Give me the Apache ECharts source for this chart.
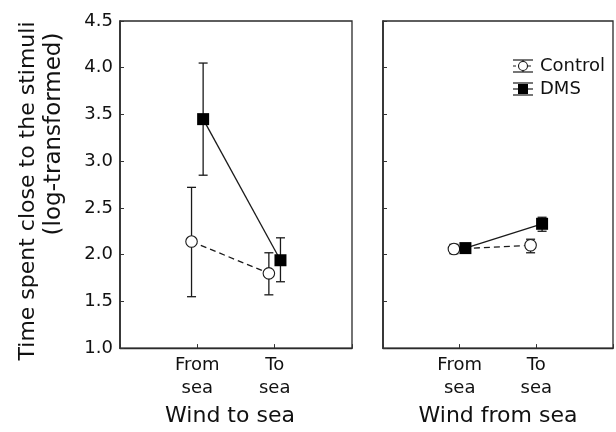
<!DOCTYPE html>
<html>
<head>
<meta charset="utf-8">
<script src="https://cdn.jsdelivr.net/npm/echarts@6/dist/echarts.min.js"></script>
<style>html,body{margin:0;padding:0;background:#fff;}#c{width:616px;height:432px;}</style>
</head>
<body>
<div id="c"></div>
<script>
// ---- data ----
const categories = ['From\nsea', 'To\nsea'];
const panels = ['Wind to sea', 'Wind from sea'];
const seriesNames = ['Control', 'DMS'];
const yTicks = [1.0, 1.5, 2.0, 2.5, 3.0, 3.5, 4.0, 4.5];

// Panel 1: Wind to sea
const controlMeanWindTo = [2.14, 1.80];
const controlLowWindTo  = [1.55, 1.57];
const controlHighWindTo = [2.72, 2.02];
const dmsMeanWindTo = [3.45, 1.94];
const dmsLowWindTo  = [2.85, 1.71];
const dmsHighWindTo = [4.05, 2.18];

// Panel 2: Wind from sea
const controlMeanWindFrom = [2.06, 2.10];
const controlLowWindFrom  = [2.01, 2.02];
const controlHighWindFrom = [2.11, 2.165];
const dmsMeanWindFrom = [2.07, 2.33];
const dmsLowWindFrom  = [2.04, 2.25];
const dmsHighWindFrom = [2.10, 2.40];

// ---- build ----
const FONT = 'DejaVu Sans';
const DODGE = 0.075;
const panelData = [
  {c: [controlMeanWindTo, controlLowWindTo, controlHighWindTo], d: [dmsMeanWindTo, dmsLowWindTo, dmsHighWindTo]},
  {c: [controlMeanWindFrom, controlLowWindFrom, controlHighWindFrom], d: [dmsMeanWindFrom, dmsLowWindFrom, dmsHighWindFrom]}
];

function errRender(params, api) {
  const x = api.value(0), lo = api.value(1), hi = api.value(2);
  const a = api.coord([x, lo]), b = api.coord([x, hi]);
  const hw = 4.5;
  const st = {stroke: '#1a1a1a', lineWidth: 1.3};
  return {type: 'group', children: [
    {type: 'line', shape: {x1: a[0], y1: a[1], x2: b[0], y2: b[1]}, style: st},
    {type: 'line', shape: {x1: a[0]-hw, y1: a[1], x2: a[0]+hw, y2: a[1]}, style: st},
    {type: 'line', shape: {x1: b[0]-hw, y1: b[1], x2: b[0]+hw, y2: b[1]}, style: st}
  ]};
}

const grids = [
  {left: 120, right: 264, top: 21, bottom: 74},
  {left: 383, right: 1, top: 21, bottom: 74}
].map(g => Object.assign(g, {show: true, borderColor: '#2a2a2a', borderWidth: 1.3, backgroundColor: 'transparent'}));

const xAxes = panels.map((name, i) => ({
  type: 'value', gridIndex: i, min: 0, max: 3, interval: 1,
  name: name, nameLocation: 'middle', nameGap: 49,
  nameTextStyle: {fontFamily: FONT, fontSize: 22, color: '#111', padding: i === 0 ? [0, 12, 0, 0] : [0, 0, 0, 0]},
  axisLine: {show: true, lineStyle: {color: '#2a2a2a', width: 1.4}},
  axisTick: {show: true, inside: true, length: 4, lineStyle: {color: '#333'}},
  splitLine: {show: false},
  axisLabel: {
    show: true, margin: 6, fontFamily: FONT, fontSize: 18, color: '#111', lineHeight: 23,
    formatter: v => (v >= 1 && v <= categories.length && Number.isInteger(v)) ? categories[v - 1] : ''
  }
}));

const yAxes = panels.map((name, i) => ({
  type: 'value', gridIndex: i, min: yTicks[0], max: yTicks[yTicks.length - 1], interval: 0.5,
  axisLine: {show: true, lineStyle: {color: '#2a2a2a', width: 1.6}},
  axisTick: {show: true, inside: true, length: 4, lineStyle: {color: '#333'}},
  splitLine: {show: false},
  axisLabel: {show: i === 0, margin: 7, fontFamily: FONT, fontSize: 18, color: '#111',
    formatter: v => v.toFixed(1)}
}));

const series = [];
panelData.forEach((pd, p) => {
  [['c', -DODGE], ['d', DODGE]].forEach(([k, off]) => {
    const [mean, lo, hi] = pd[k];
    const isC = k === 'c';
    series.push({
      type: 'custom', xAxisIndex: p, yAxisIndex: p, z: 2, silent: true,
      renderItem: errRender, encode: {x: 0, y: [1, 2]},
      data: mean.map((m, i) => [i + 1 + off, lo[i], hi[i]])
    });
    series.push({
      type: 'line', name: isC ? seriesNames[0] : seriesNames[1],
      xAxisIndex: p, yAxisIndex: p, z: isC ? 3 : 4,
      symbol: isC ? 'circle' : 'rect', symbolSize: isC ? 11.5 : 12,
      itemStyle: isC ? {color: '#fff', borderColor: '#1a1a1a', borderWidth: 1.1} : {color: '#000', borderColor: '#000', borderWidth: 0},
      lineStyle: {color: '#1a1a1a', width: 1.3, type: isC ? [6, 4] : 'solid'},
      data: mean.map((m, i) => [i + 1 + off, m]),
      animation: false
    });
  });
});

// legend drawn as graphic (icon reproduces error-bar glyph)
const lx = 523, ly1 = 66, ly2 = 89, lw = 10;
const st = {stroke: '#1a1a1a', lineWidth: 1.2};
const graphic = [
  {type: 'text', z: 10, x: 28, y: 191, rotation: Math.PI / 2,
    style: {text: 'Time spent close to the stimuli', fontFamily: FONT, fontSize: 22, fill: '#111', align: 'center', verticalAlign: 'middle'}},
  {type: 'text', z: 10, x: 54, y: 134, rotation: Math.PI / 2,
    style: {text: '(log-transformed)', fontFamily: FONT, fontSize: 23, fill: '#111', align: 'center', verticalAlign: 'middle'}},
  // Control icon
  {type: 'line', z: 10, shape: {x1: lx - lw, y1: ly1, x2: lx + lw, y2: ly1}, style: Object.assign({lineDash: [3, 2]}, st)},
  {type: 'line', z: 10, shape: {x1: lx - lw, y1: ly1 - 6, x2: lx + lw, y2: ly1 - 6}, style: st},
  {type: 'line', z: 10, shape: {x1: lx - lw, y1: ly1 + 6, x2: lx + lw, y2: ly1 + 6}, style: st},
  {type: 'line', z: 10, shape: {x1: lx, y1: ly1 - 6, x2: lx, y2: ly1 + 6}, style: st},
  {type: 'circle', z: 11, shape: {cx: lx, cy: ly1, r: 4.5}, style: {fill: '#fff', stroke: '#1a1a1a', lineWidth: 1.1}},
  {type: 'text', z: 10, x: 540, y: ly1, style: {text: seriesNames[0], fontFamily: FONT, fontSize: 18, fill: '#111', verticalAlign: 'middle'}},
  // DMS icon
  {type: 'line', z: 10, shape: {x1: lx - lw, y1: ly2, x2: lx + lw, y2: ly2}, style: st},
  {type: 'line', z: 10, shape: {x1: lx - lw, y1: ly2 - 6, x2: lx + lw, y2: ly2 - 6}, style: st},
  {type: 'line', z: 10, shape: {x1: lx - lw, y1: ly2 + 6, x2: lx + lw, y2: ly2 + 6}, style: st},
  {type: 'rect', z: 11, shape: {x: lx - 5, y: ly2 - 5, width: 10, height: 10}, style: {fill: '#000'}},
  {type: 'text', z: 10, x: 540, y: ly2, style: {text: seriesNames[1], fontFamily: FONT, fontSize: 18, fill: '#111', verticalAlign: 'middle'}}
];

const chart = echarts.init(document.getElementById('c'), null, {renderer: 'canvas'});
chart.setOption({
  backgroundColor: '#fff',
  animation: false,
  textStyle: {fontFamily: FONT},
  grid: grids, xAxis: xAxes, yAxis: yAxes, series: series, graphic: graphic
});
</script>
</body>
</html>
